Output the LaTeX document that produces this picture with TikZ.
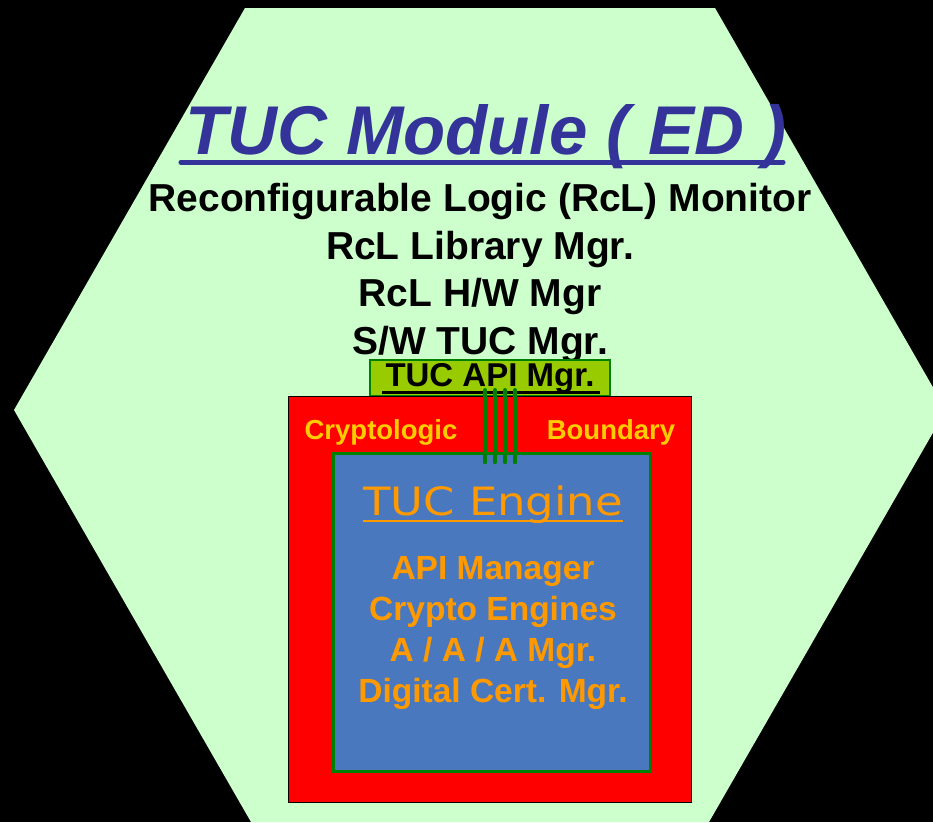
\documentclass[tikz,border=0pt]{standalone}
\usepackage{fontspec}
\setmainfont{Liberation Sans}
\newfontfamily\enginefont[FakeStretch=1.15]{DejaVu Sans}
\definecolor{hexgreen}{HTML}{CCFFCC}
\definecolor{titleblue}{HTML}{333399}
\definecolor{apigreen}{HTML}{99CC00}
\definecolor{wiregreen}{HTML}{008000}
\definecolor{boundred}{HTML}{FF0000}
\definecolor{engineblue}{HTML}{4A78BE}
\definecolor{engineorange}{HTML}{FF9900}
\definecolor{boundyellow}{HTML}{FFCC00}
\tikzset{
  tucbox/.style={rectangle, draw, inner sep=0pt},
  apibox/.style={tucbox, fill=apigreen, draw=wiregreen, line width=2.5pt,
                 minimum width=240pt, minimum height=36pt,
                 font=\fontsize{33}{38}\selectfont\bfseries},
  boundarybox/.style={tucbox, fill=boundred, draw=black, line width=0.8pt,
                      minimum width=403pt, minimum height=406pt},
  enginebox/.style={tucbox, fill=engineblue, draw=wiregreen, line width=3pt,
                    minimum width=317pt, minimum height=318pt},
  boundlabel/.style={text=boundyellow, inner sep=0pt,
                     font=\fontsize{27.5}{32}\selectfont\bfseries},
  wirelink/.style={draw=wiregreen, line width=4.5pt, line cap=round},
  textrule/.style={line cap=round}
}

\begin{document}
\begin{tikzpicture}[x=1pt, y=-1pt]
  \useasboundingbox[fill=black] (0,0) rectangle (933,822);
  \clip (0,0) rectangle (933,822);
  % the module hexagon
  \fill[hexgreen] (245,8) -- (715,8) -- (946,410) -- (709,822)
    -- (251,822) -- (14,410) -- cycle;
  % title and the monitor list
  \node[text=titleblue, inner sep=0pt, anchor=base,
        font=\fontsize{69}{80}\selectfont\bfseries\itshape]
    (title) at (486,154) {TUC Module ( ED )};
  \draw[textrule, titleblue, line width=5pt]
    ([xshift=-4pt, yshift=-8pt]title.base west)
    -- ([xshift=-4pt, yshift=-8pt]title.base east);
  \node[align=center, inner sep=0pt,
        font=\fontsize{39}{47.5}\selectfont\bfseries]
    (monitor) at (480,273) {Reconfigurable Logic (RcL) Monitor\\
      RcL Library Mgr.\\ RcL H/W Mgr\\ S/W TUC Mgr.};
  % API manager, then the boundary over it
  \node[apibox] (apimgr) at (490,378) {\raisebox{-3pt}{TUC API Mgr.}};
  \draw[line width=3pt] ([xshift=13pt, yshift=5pt]apimgr.south west)
    -- ([xshift=-11pt, yshift=5pt]apimgr.south east);
  \node[boundarybox] (boundary) at (490,599.5) {};
  \node[boundlabel] (cryptolabel) at (381,432) {Cryptologic};
  \node[boundlabel] (boundlabel) at (611,432) {Boundary};
  % the engine
  \node[enginebox] (engine) at (492,612.5) {};
  \node[text=engineorange, inner sep=0pt, anchor=base,
        font=\fontsize{39}{44}\enginefont]
    (enginetitle) at (493,515) {TUC Engine};
  \draw[engineorange, line width=2pt]
    ([yshift=-6pt]enginetitle.base west) -- ([yshift=-6pt]enginetitle.base east);
  \node[text=engineorange, align=center, inner sep=0pt,
        font=\fontsize{33.5}{41}\selectfont\bfseries]
    (enginelist) at (493,633) {API Manager\\ Crypto Engines\\
      A / A / A Mgr.\\ Digital Cert. Mgr.};
  % wires through the boundary
  \foreach \dx in {-5,5,15,25}
    { \draw[wirelink, shorten <=-7pt, shorten >=-10pt]
        ([xshift=\dx pt]apimgr.south) -- ([xshift=\dx pt]apimgr.south |- engine.north); }
\end{tikzpicture}
\end{document}
